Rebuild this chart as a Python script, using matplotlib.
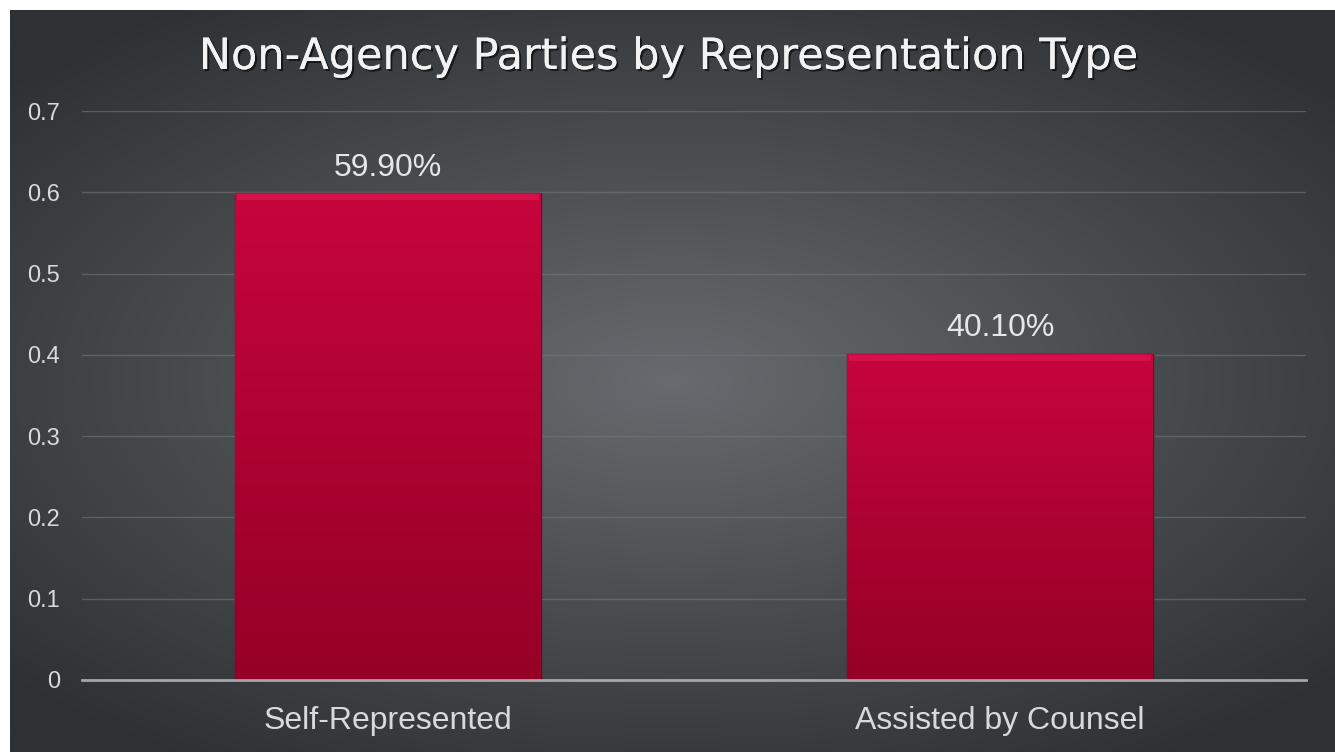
import matplotlib.pyplot as plt
import matplotlib.patheffects as pe
import numpy as np

categories = ['Self-Represented', 'Assisted by Counsel']
values = [0.599, 0.401]
labels = ['59.90%', '40.10%']
yticks = [0, 0.1, 0.2, 0.3, 0.4, 0.5, 0.6, 0.7]
ytick_labels = ['0', '0.1', '0.2', '0.3', '0.4', '0.5', '0.6', '0.7']

fig = plt.figure(figsize=(13.35, 7.52), dpi=100)
fig.patch.set_facecolor('white')

# radial gradient background panel
bg = fig.add_axes([10 / 1335, 0, 1 - 10 / 1335, 1 - 10 / 752])
bg.set_axis_off()
yy, xx = np.mgrid[-1:1:300j, -1:1:500j]
r = np.sqrt((xx * 1.0) ** 2 + (yy * 1.1) ** 2)
r = np.clip(r / 1.35, 0, 1)
c_in = np.array([0x67, 0x6a, 0x6e]) / 255
c_out = np.array([0x2e, 0x31, 0x33]) / 255
img = c_in[None, None, :] * (1 - r[..., None]) + c_out[None, None, :] * r[..., None]
bg.imshow(img, aspect='auto', extent=[0, 1, 0, 1], interpolation='bilinear')
bg.set_xlim(0, 1)
bg.set_ylim(0, 1)

ax = fig.add_axes([82 / 1335, 1 - 680 / 752, (1306 - 82) / 1335, (680 - 111) / 752])
ax.patch.set_alpha(0)

x = np.arange(len(categories))
bars = ax.bar(x, values, width=0.5, color='#b8073a', edgecolor='#7a0020', linewidth=1, zorder=3)

# vertical gradient inside each bar
grad = np.linspace(0, 1, 256)[:, None]
top_c = np.array([0xc6, 0x05, 0x3d]) / 255
bot_c = np.array([0x95, 0x00, 0x27]) / 255
for b in bars:
    g = top_c[None, None, :] * (1 - grad[..., None]) + bot_c[None, None, :] * grad[..., None]
    g = np.repeat(g, 2, axis=1)
    x0, w, h = b.get_x(), b.get_width(), b.get_height()
    im = ax.imshow(g, aspect='auto', extent=[x0, x0 + w, 0, h], zorder=4, interpolation='bilinear')
    im.set_clip_path(b)
    # bevel highlight on top
    ax.fill_between([x0 + 0.004, x0 + w - 0.004], h - 0.008, h - 0.001, color='#e8245a', alpha=0.45, zorder=5, linewidth=0)

ax.set_xlim(-0.5, 1.5)
ax.set_ylim(0, 0.7)

for xi, v, lab in zip(x, values, labels):
    ax.text(xi, v + 0.013, lab, ha='center', va='bottom', fontsize=23, color='#e6e6e6',
            family='Liberation Sans', zorder=6)

ax.set_yticks(yticks)
ax.set_yticklabels(ytick_labels)
ax.set_xticks(x)
ax.set_xticklabels(categories)
ax.tick_params(axis='y', length=0, pad=16, labelsize=17, labelcolor='#d9d9d9')
ax.tick_params(axis='x', length=0, pad=19, labelsize=23, labelcolor='#d9d9d9')
for t in ax.get_xticklabels() + ax.get_yticklabels():
    t.set_family('Liberation Sans')

ax.grid(axis='y', color='#73767a', linewidth=1, alpha=0.6, zorder=0)
for s in ['left', 'right', 'top']:
    ax.spines[s].set_visible(False)
ax.spines['bottom'].set_color('#a6a6a6')
ax.spines['bottom'].set_linewidth(2)
ax.spines['bottom'].set_zorder(7)

fig.text(0.5, 1 - 57 / 752, 'Non-Agency Parties by Representation Type', ha='center', va='center',
         fontsize=31, color='#f2f2f2', family='DejaVu Sans',
         path_effects=[pe.withSimplePatchShadow(offset=(1.5, -1.5), shadow_rgbFace='black', alpha=0.6), pe.Normal()])

fig.savefig('out.png', dpi=100, facecolor=fig.get_facecolor())
